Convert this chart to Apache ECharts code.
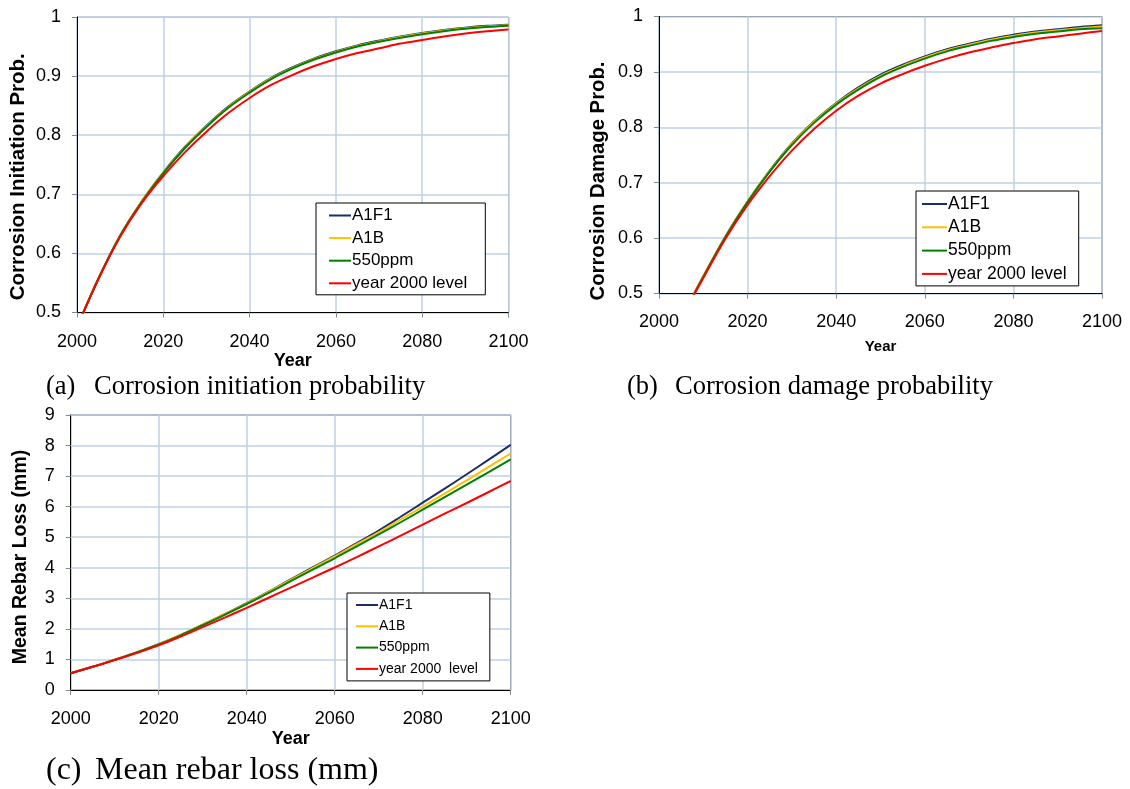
<!DOCTYPE html>
<html>
<head>
<meta charset="utf-8">
<script src="https://cdn.jsdelivr.net/npm/echarts@6/dist/echarts.min.js"></script>
<style>
  html, body { margin: 0; padding: 0; background: #ffffff; }
  #chart { width: 1130px; height: 789px; }
</style>
</head>
<body>
<div id="chart"></div>
<script>
// Scenario names
const scenarios = ['A1F1', 'A1B', '550ppm', 'year 2000 level'];
const scenariosC = ['A1F1', 'A1B', '550ppm', 'year 2000  level'];
const scenarioColors = ['#1b2d6b', '#ffc000', '#008000', '#ff0000'];

// (a) corrosion initiation probability, 5-year steps
const yearsA = [2000, 2005, 2010, 2015, 2020, 2025, 2030, 2035, 2040, 2045, 2050,
                2055, 2060, 2065, 2070, 2075, 2080, 2085, 2090, 2095, 2100];
const initA1F1 = [0.475, 0.558, 0.630, 0.688, 0.737, 0.780, 0.816, 0.848, 0.874, 0.897, 0.915,
                  0.930, 0.942, 0.952, 0.960, 0.967, 0.973, 0.978, 0.982, 0.985, 0.987];
const initA1B  = [0.475, 0.558, 0.630, 0.688, 0.737, 0.779, 0.815, 0.847, 0.873, 0.896, 0.914,
                  0.929, 0.941, 0.951, 0.959, 0.966, 0.972, 0.977, 0.981, 0.984, 0.986];
const init550  = [0.475, 0.558, 0.630, 0.687, 0.736, 0.778, 0.814, 0.846, 0.872, 0.895, 0.913,
                  0.928, 0.940, 0.950, 0.958, 0.965, 0.971, 0.976, 0.980, 0.983, 0.985];
const init2000 = [0.475, 0.557, 0.628, 0.685, 0.731, 0.771, 0.806, 0.837, 0.863, 0.885, 0.902,
                  0.917, 0.929, 0.939, 0.947, 0.955, 0.961, 0.967, 0.972, 0.976, 0.979];

// (b) corrosion damage probability, 5-year steps
const yearsB = [2005, 2010, 2015, 2020, 2025, 2030, 2035, 2040, 2045, 2050,
                2055, 2060, 2065, 2070, 2075, 2080, 2085, 2090, 2095, 2100];
const dmgA1F1 = [0.455, 0.531, 0.603, 0.666, 0.722, 0.771, 0.811, 0.844, 0.872, 0.895,
                 0.913, 0.928, 0.941, 0.951, 0.960, 0.967, 0.973, 0.977, 0.981, 0.984];
const dmgA1B  = [0.455, 0.531, 0.603, 0.666, 0.721, 0.770, 0.810, 0.843, 0.870, 0.893,
                 0.911, 0.926, 0.939, 0.949, 0.958, 0.965, 0.971, 0.975, 0.979, 0.982];
const dmg550  = [0.455, 0.530, 0.602, 0.665, 0.720, 0.768, 0.808, 0.841, 0.868, 0.891,
                 0.909, 0.924, 0.937, 0.947, 0.956, 0.963, 0.969, 0.973, 0.977, 0.979];
const dmg2000 = [0.455, 0.528, 0.599, 0.660, 0.712, 0.758, 0.797, 0.830, 0.857, 0.879,
                 0.896, 0.911, 0.924, 0.935, 0.944, 0.952, 0.959, 0.964, 0.969, 0.974];

// (c) mean rebar loss (mm), 5-year steps
const yearsC = yearsA;
const lossA1F1 = [0.55, 0.76, 0.99, 1.23, 1.50, 1.80, 2.14, 2.48, 2.84, 3.22, 3.62,
                  4.01, 4.40, 4.81, 5.22, 5.67, 6.13, 6.59, 7.06, 7.54, 8.02];
const lossA1B  = [0.55, 0.76, 0.99, 1.23, 1.50, 1.80, 2.14, 2.48, 2.83, 3.21, 3.60,
                  3.99, 4.37, 4.77, 5.16, 5.58, 6.00, 6.43, 6.86, 7.30, 7.74];
const loss550  = [0.55, 0.76, 0.99, 1.23, 1.49, 1.79, 2.12, 2.46, 2.81, 3.18, 3.56,
                  3.94, 4.31, 4.70, 5.09, 5.49, 5.90, 6.31, 6.72, 7.13, 7.55];
const loss2000 = [0.55, 0.76, 0.98, 1.21, 1.46, 1.75, 2.06, 2.37, 2.69, 3.02, 3.35,
                  3.68, 4.01, 4.35, 4.70, 5.05, 5.41, 5.77, 6.12, 6.48, 6.84];

// Axis ticks
const yearTicks = { min: 2000, max: 2100, interval: 20 };
const probTicks = { min: 0.5, max: 1, interval: 0.1 };
const lossTicks = { min: 0, max: 9, interval: 1 };

// Captions
const captions = [
  { tag: '(a)', text: 'Corrosion initiation probability' },
  { tag: '(b)', text: 'Corrosion damage probability' },
  { tag: '(c)', text: 'Mean rebar loss (mm)' }
];

const SANS = '"Liberation Sans", Arial, sans-serif';
const SERIF = '"Liberation Serif", "Times New Roman", serif';

const panels = [
  { years: yearsA, sets: [initA1F1, initA1B, init550, init2000], names: scenarios,
    grid: { left: 77, top: 17, width: 431.5, height: 295.5 }, y: probTicks,
    yName: 'Corrosion Initiation Prob.', yGap: 48, yShift: 24, ySize: 20.5,
    xGap: 35, xNameSize: 18, xMargin: 21, border: '#9aa2ab' },
  { years: yearsB, sets: [dmgA1F1, dmgA1B, dmg550, dmg2000], names: scenarios,
    grid: { left: 659, top: 16.5, width: 443, height: 277 }, y: probTicks,
    yName: 'Corrosion Damage Prob.', yGap: 51, yShift: 52, ySize: 20.3,
    xGap: 46, xNameSize: 15, xMargin: 20, border: '#2b2b2b' },
  { years: yearsC, sets: [lossA1F1, lossA1B, loss550, loss2000], names: scenariosC,
    grid: { left: 70.7, top: 415, width: 440, height: 275 }, y: lossTicks,
    yName: 'Mean Rebar Loss (mm)', yGap: 40, yShift: 9, ySize: 19.5,
    xGap: 40, xNameSize: 18, xMargin: 20, border: '#1a1a1a' }
];

const legendLayouts = [
  { left: 316, top: 203, padding: [4, 18, 3, 13], itemWidth: 22, itemGap: 5.6, fontSize: 17, lineHeight: 17 },
  { left: 916, top: 191, padding: [4, 12, 3, 6], itemWidth: 25, itemGap: 5.3, fontSize: 17.5, lineHeight: 18 },
  { left: 347, top: 593, padding: [5, 12, 5, 9], itemWidth: 22, itemGap: 7.3, fontSize: 14, lineHeight: 14 }
];

const grids = [], xAxes = [], yAxes = [], series = [], legends = [];

panels.forEach((p, i) => {
  grids.push(Object.assign({ show: true, borderColor: p.border, borderWidth: 1,
                             backgroundColor: 'transparent', containLabel: false }, p.grid));
  xAxes.push({
    type: 'value', gridIndex: i, min: yearTicks.min, max: yearTicks.max, interval: yearTicks.interval,
    name: 'Year', nameLocation: 'middle', nameGap: p.xGap,
    nameTextStyle: { fontFamily: SANS, fontWeight: 'bold', fontSize: p.xNameSize, color: '#000' },
    axisLine: { show: true, onZero: false, lineStyle: { color: '#000', width: 1 } },
    axisTick: { show: true, length: 5, lineStyle: { color: '#888' } },
    axisLabel: { fontFamily: SANS, fontSize: 18, color: '#000', margin: p.xMargin,
                 formatter: v => String(v) },
    splitLine: { show: true, lineStyle: { color: '#bfd0e6', width: 1.5 } }
  });
  yAxes.push({
    type: 'value', gridIndex: i, min: p.y.min, max: p.y.max, interval: p.y.interval,
    name: p.yName, nameLocation: 'middle', nameRotate: 90, nameGap: p.yGap,
    nameTextStyle: { fontFamily: SANS, fontWeight: 'bold', fontSize: p.ySize, color: '#000',
                     padding: [0, p.yShift, 0, 0] },
    axisLine: { show: true, onZero: false, lineStyle: { color: '#000', width: 1 } },
    axisTick: { show: true, length: 5, lineStyle: { color: '#888' } },
    axisLabel: { fontFamily: SANS, fontSize: 18, color: '#000', margin: 16 },
    splitLine: { show: true, lineStyle: { color: '#bfd0e6', width: 1.5 } }
  });
  p.sets.forEach((vals, k) => {
    series.push({
      type: 'line', name: p.names[k], xAxisIndex: i, yAxisIndex: i,
      data: p.years.map((yr, j) => [yr, vals[j]]),
      showSymbol: false, symbol: 'none', smooth: 0.35, clip: true,
      lineStyle: { color: scenarioColors[k], width: 2 },
      itemStyle: { color: scenarioColors[k] },
      z: 2 + k, silent: true
    });
  });
  const L = legendLayouts[i];
  legends.push({
    orient: 'vertical', left: L.left, top: L.top, padding: L.padding,
    data: p.names, icon: 'rect', itemWidth: L.itemWidth, itemHeight: 2, itemGap: L.itemGap,
    borderColor: '#000', borderWidth: 1, backgroundColor: '#fff',
    selectedMode: false,
    textStyle: { fontFamily: SANS, fontSize: L.fontSize, lineHeight: L.lineHeight, color: '#000',
                 padding: [0, 0, 0, -4] }
  });
});

const captionPos = [
  { x: 46, xt: 94, y: 387, size: 26.5 },
  { x: 627, xt: 675, y: 387, size: 26.5 },
  { x: 46, xt: 95, y: 771, size: 32 }
];
const graphics = [];
captions.forEach((c, i) => {
  const P = captionPos[i];
  graphics.push({ type: 'text', left: P.x, top: P.y - P.size * 0.5,
    style: { text: c.tag, font: P.size + 'px ' + SERIF, fill: '#000' } });
  graphics.push({ type: 'text', left: P.xt, top: P.y - P.size * 0.5,
    style: { text: c.text, font: P.size + 'px ' + SERIF, fill: '#000' } });
});

const chart = echarts.init(document.getElementById('chart'), null, { renderer: 'canvas' });
chart.setOption({
  animation: false,
  backgroundColor: '#fff',
  grid: grids,
  xAxis: xAxes,
  yAxis: yAxes,
  legend: legends,
  series: series,
  graphic: graphics
});
</script>
</body>
</html>
